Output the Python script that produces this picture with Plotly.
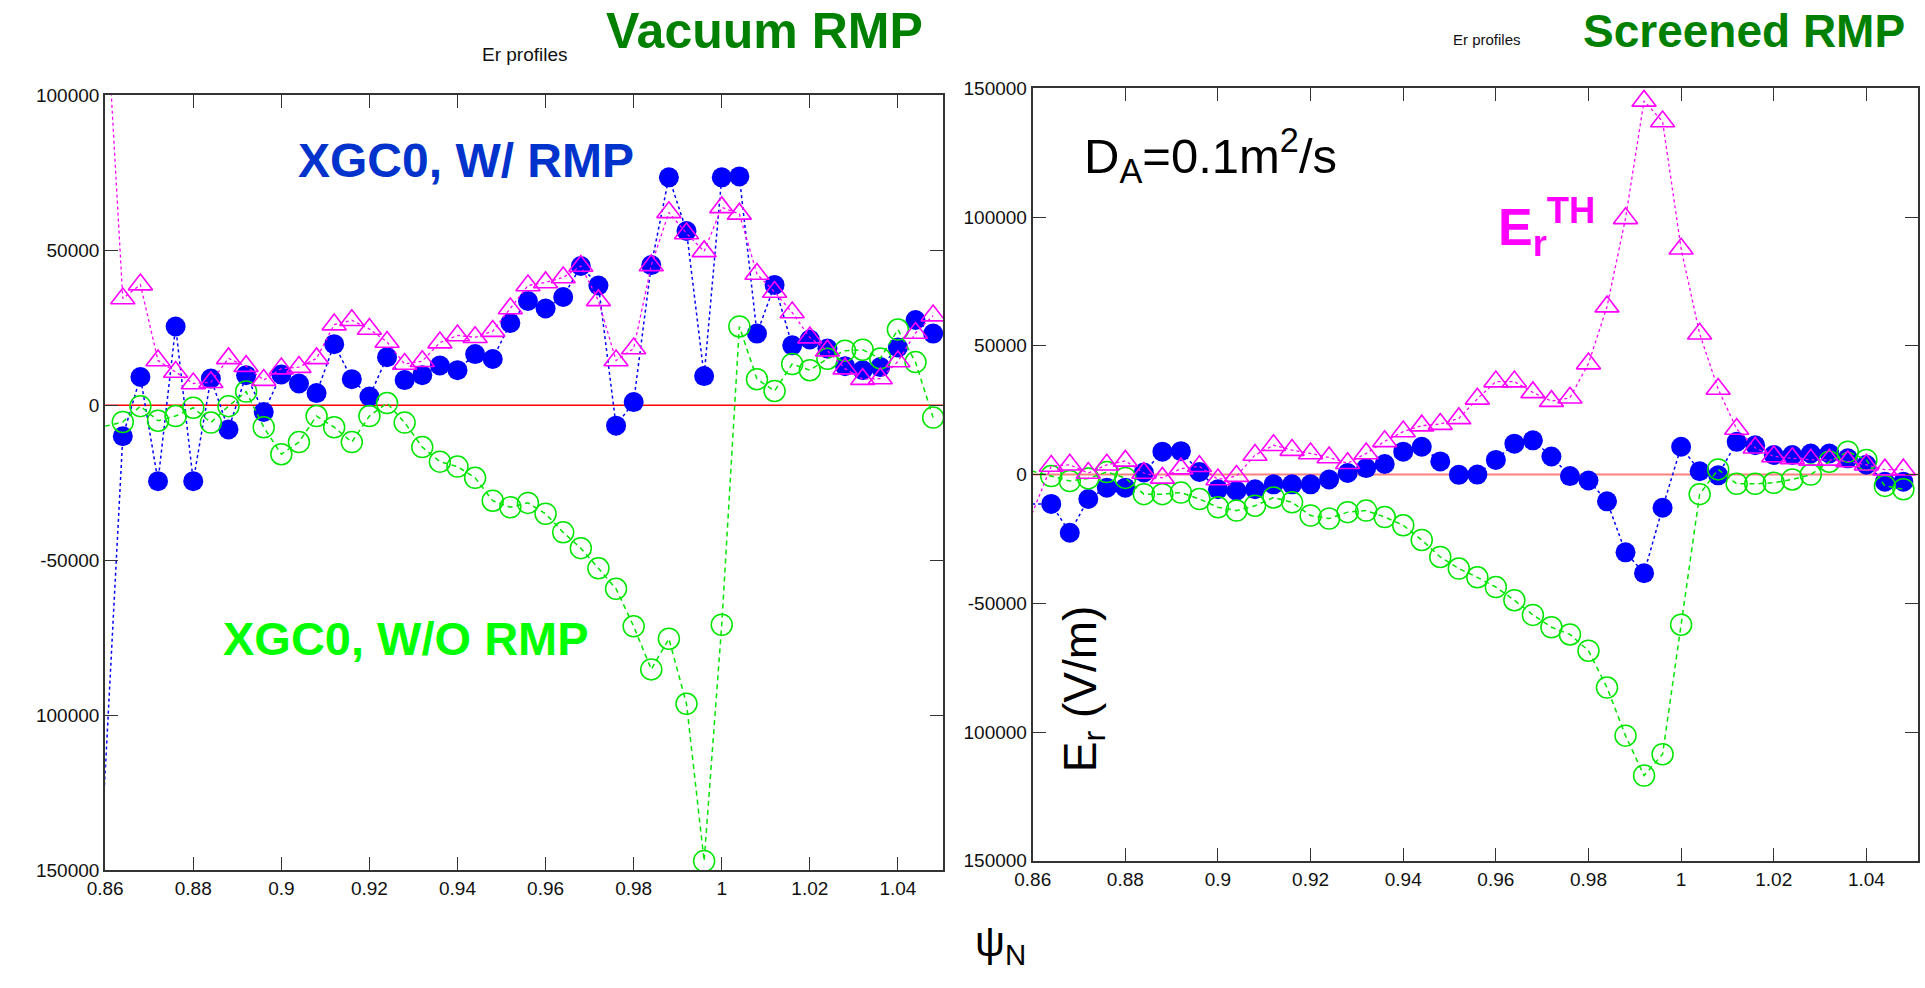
import plotly.graph_objects as go

W, H = 1925, 988

# ---------------- data ----------------
psi = [0.856, 0.864, 0.868, 0.872, 0.876, 0.880, 0.884, 0.888, 0.892, 0.896,
       0.900, 0.904, 0.908, 0.912, 0.916, 0.920, 0.924, 0.928, 0.932, 0.936,
       0.940, 0.944, 0.948, 0.952, 0.956, 0.960, 0.964, 0.968, 0.972, 0.976,
       0.980, 0.984, 0.988, 0.992, 0.996, 1.000, 1.004, 1.008, 1.012, 1.016,
       1.020, 1.024, 1.028, 1.032, 1.036, 1.040, 1.044, 1.048]

# Vacuum RMP panel
vac_with_rmp = [-227000, -10000, 9100, -24500, 25400, -24500, 8600, -7800, 9700, -2200,
                9900, 7000, 3900, 19700, 8400, 2800, 15500, 8100, 9700, 12800,
                11300, 16500, 14900, 26500, 33600, 31200, 34900, 44900, 38600, -6600,
                1000, 45200, 73500, 56200, 9400, 73500, 73800, 23100, 38800, 19300,
                21200, 18300, 12600, 11300, 12300, 18600, 27500, 23100]
vac_er_th = [236000, 34400, 38900, 14400, 10700, 7000, 7400, 15100, 12600, 8100,
             11800, 12300, 15100, 26000, 27400, 24600, 20400, 13300, 14200, 20200,
             22500, 21900, 23900, 31200, 38600, 39600, 41200, 44900, 33800, 14400,
             18300, 45100, 62200, 55400, 49600, 63800, 61700, 42300, 36500, 29900,
             21800, 17600, 11800, 8400, 8600, 14100, 23300, 28900]
vac_without_rmp = [-8200, -5400, -300, -5000, -3500, -800, -5600, -300, 4400, -7100,
                   -15800, -11900, -3500, -7100, -11900, -3500, 700, -5600, -13500, -18200,
                   -19800, -23400, -30800, -32900, -31500, -35000, -41000, -46100, -52600, -59200,
                   -71300, -85200, -75300, -96300, -147000, -70800, 25400, 8400, 4600, 13300,
                   11300, 15000, 17600, 17900, 15100, 24400, 13900, -4000]

# Screened RMP panel
scr_with_rmp = [-11400, -11400, -22600, -9500, -5100, -5100, 800, 8900, 9100, 1000,
                -5700, -6300, -5700, -3800, -3800, -3800, -1900, 600, 2500, 4100,
                8900, 10800, 5100, -100, 0, 5700, 12000, 13300, 7000, -600,
                -2300, -10400, -30200, -38300, -12900, 10800, 1300, -300, 12700, 11400,
                7600, 7600, 8200, 8200, 6300, 3800, -2800, -2800]
scr_er_th = [-32400, 3300, 3800, 600, 3800, 5300, 600, -1300, 2300, 3200,
             -1900, -600, 7600, 11400, 9500, 8200, 6600, 4400, 8200, 12900,
             16700, 19000, 19600, 21800, 29400, 36100, 36100, 31900, 28500, 29800,
             43100, 65200, 99500, 145100, 137100, 87700, 54700, 33200, 17700, 10400,
             7000, 6300, 5700, 5700, 5100, 3800, 1900, 1900]
scr_without_rmp = [3200, -600, -2500, -1500, 1000, -1300, -7600, -7600, -7000, -9500,
                   -12700, -14000, -12100, -8900, -10800, -15900, -17100, -14600, -14000, -16500,
                   -19700, -25400, -32000, -36500, -39900, -43700, -48800, -54500, -59300, -62100,
                   -68400, -82700, -101400, -116900, -108600, -58300, -7600, 2000, -3600, -3600,
                   -3200, -1900, 0, 5000, 8900, 5700, -4400, -5700]

left_yticks = [100000, 50000, 0, -50000, -100000, -150000]
left_yticktext = ["100000", "50000", "0", "-50000", "100000", "150000"]
right_yticks = [150000, 100000, 50000, 0, -50000, -100000, -150000]
right_yticktext = ["150000", "100000", "50000", "0", "-50000", "100000", "150000"]

# ---------------- styles ----------------
BLUE = "#0000ff"
GREEN = "#00e600"
MAGENTA = "#ff00ff"
FONT = "Liberation Sans"

fig = go.Figure()


def add_panel(xa, ya, blue, green, mag, msize):
    fig.add_trace(go.Scatter(x=psi, y=blue, xaxis=xa, yaxis=ya, mode="lines+markers",
                             line=dict(color=BLUE, width=1.5, dash="dot"),
                             marker=dict(symbol="circle", size=msize, color=BLUE),
                             hoverinfo="skip"))
    fig.add_trace(go.Scatter(x=psi, y=green, xaxis=xa, yaxis=ya, mode="lines+markers",
                             line=dict(color=GREEN, width=1.5, dash="5px,4px"),
                             marker=dict(symbol="circle-open", size=msize + 1, color=GREEN,
                                         line=dict(width=1.5, color=GREEN)),
                             hoverinfo="skip"))
    fig.add_trace(go.Scatter(x=psi, y=mag, xaxis=xa, yaxis=ya, mode="lines+markers",
                             line=dict(color=MAGENTA, width=1.3, dash="dot"),
                             marker=dict(symbol="triangle-up-open", size=msize + 1, color=MAGENTA,
                                         line=dict(width=1.6, color=MAGENTA)),
                             hoverinfo="skip"))


add_panel("x", "y", vac_with_rmp, vac_without_rmp, vac_er_th, 20)
add_panel("x2", "y2", scr_with_rmp, scr_without_rmp, scr_er_th, 20)

axis_common = dict(showgrid=False, zeroline=False, showline=True, linecolor="#333333",
                   linewidth=2, mirror="ticks", ticks="inside", ticklen=13, tickwidth=1.2,
                   tickcolor="#333333", tickfont=dict(family=FONT, size=19, color="#111111"))

fig.update_layout(
    width=W, height=H, margin=dict(l=0, r=0, t=0, b=0),
    paper_bgcolor="white", plot_bgcolor="white", showlegend=False,
    xaxis=dict(domain=[88 / W, 934 / W], range=[0.86, 1.0503], tick0=0.86, dtick=0.02,
               anchor="y", **axis_common),
    yaxis=dict(domain=[1 - 879 / H, 1 - 87 / H], range=[-150000, 100000],
               tickvals=left_yticks, ticktext=left_yticktext, anchor="x", **axis_common),
    xaxis2=dict(domain=[1024.3 / W, 1917.7 / W], range=[0.86, 1.0511], tick0=0.86, dtick=0.02,
                anchor="y2", **axis_common),
    yaxis2=dict(domain=[1 - 869.3 / H, 1 - 80 / H], range=[-150000, 150000],
                tickvals=right_yticks, ticktext=right_yticktext, anchor="x2", **axis_common),
)

fig.add_shape(type="line", xref="x domain", x0=0, x1=1, yref="y", y0=0, y1=0,
              line=dict(color="#ff0000", width=1.5), layer="below")
fig.add_shape(type="line", xref="x2 domain", x0=0, x1=1, yref="y2", y0=0, y1=0,
              line=dict(color="#ff8080", width=2), layer="below")


def ann(text, px, py, size, color, xanchor="left", yanchor="middle", angle=0):
    fig.add_annotation(text=text, x=px / W, y=1 - py / H, xref="paper", yref="paper",
                       xanchor=xanchor, yanchor=yanchor, showarrow=False, textangle=angle,
                       font=dict(family=FONT, size=size, color=color))


ann("Er profiles", 466, 45, 19, "#111111")
ann("<b>Vacuum RMP</b>", 592, 21, 50, "#008000")
ann("Er profiles", 1447, 30, 15, "#111111")
ann("<b>Screened RMP</b>", 1578, 21, 46, "#008000")
ann("<b>XGC0, W/ RMP</b>", 281, 154, 48, "#0033cc")
ann("<b>XGC0, W/O RMP</b>", 205, 642, 47, "#00ff00")
ann("D<sub>A</sub>=0.1m<sup>2</sup>/s", 1074, 149, 49, "#000000")
ann("<b>E<sub>r</sub><sup>TH</sup></b>", 1492, 222, 52, "#ff00ff")
ann("E<sub>r</sub> (V/m)", 1075, 693, 46, "#000000", xanchor="center", angle=-90)
ann("ψ<sub>N</sub>", 964, 955, 42, "#000000")

fig.write_html("out.html")
